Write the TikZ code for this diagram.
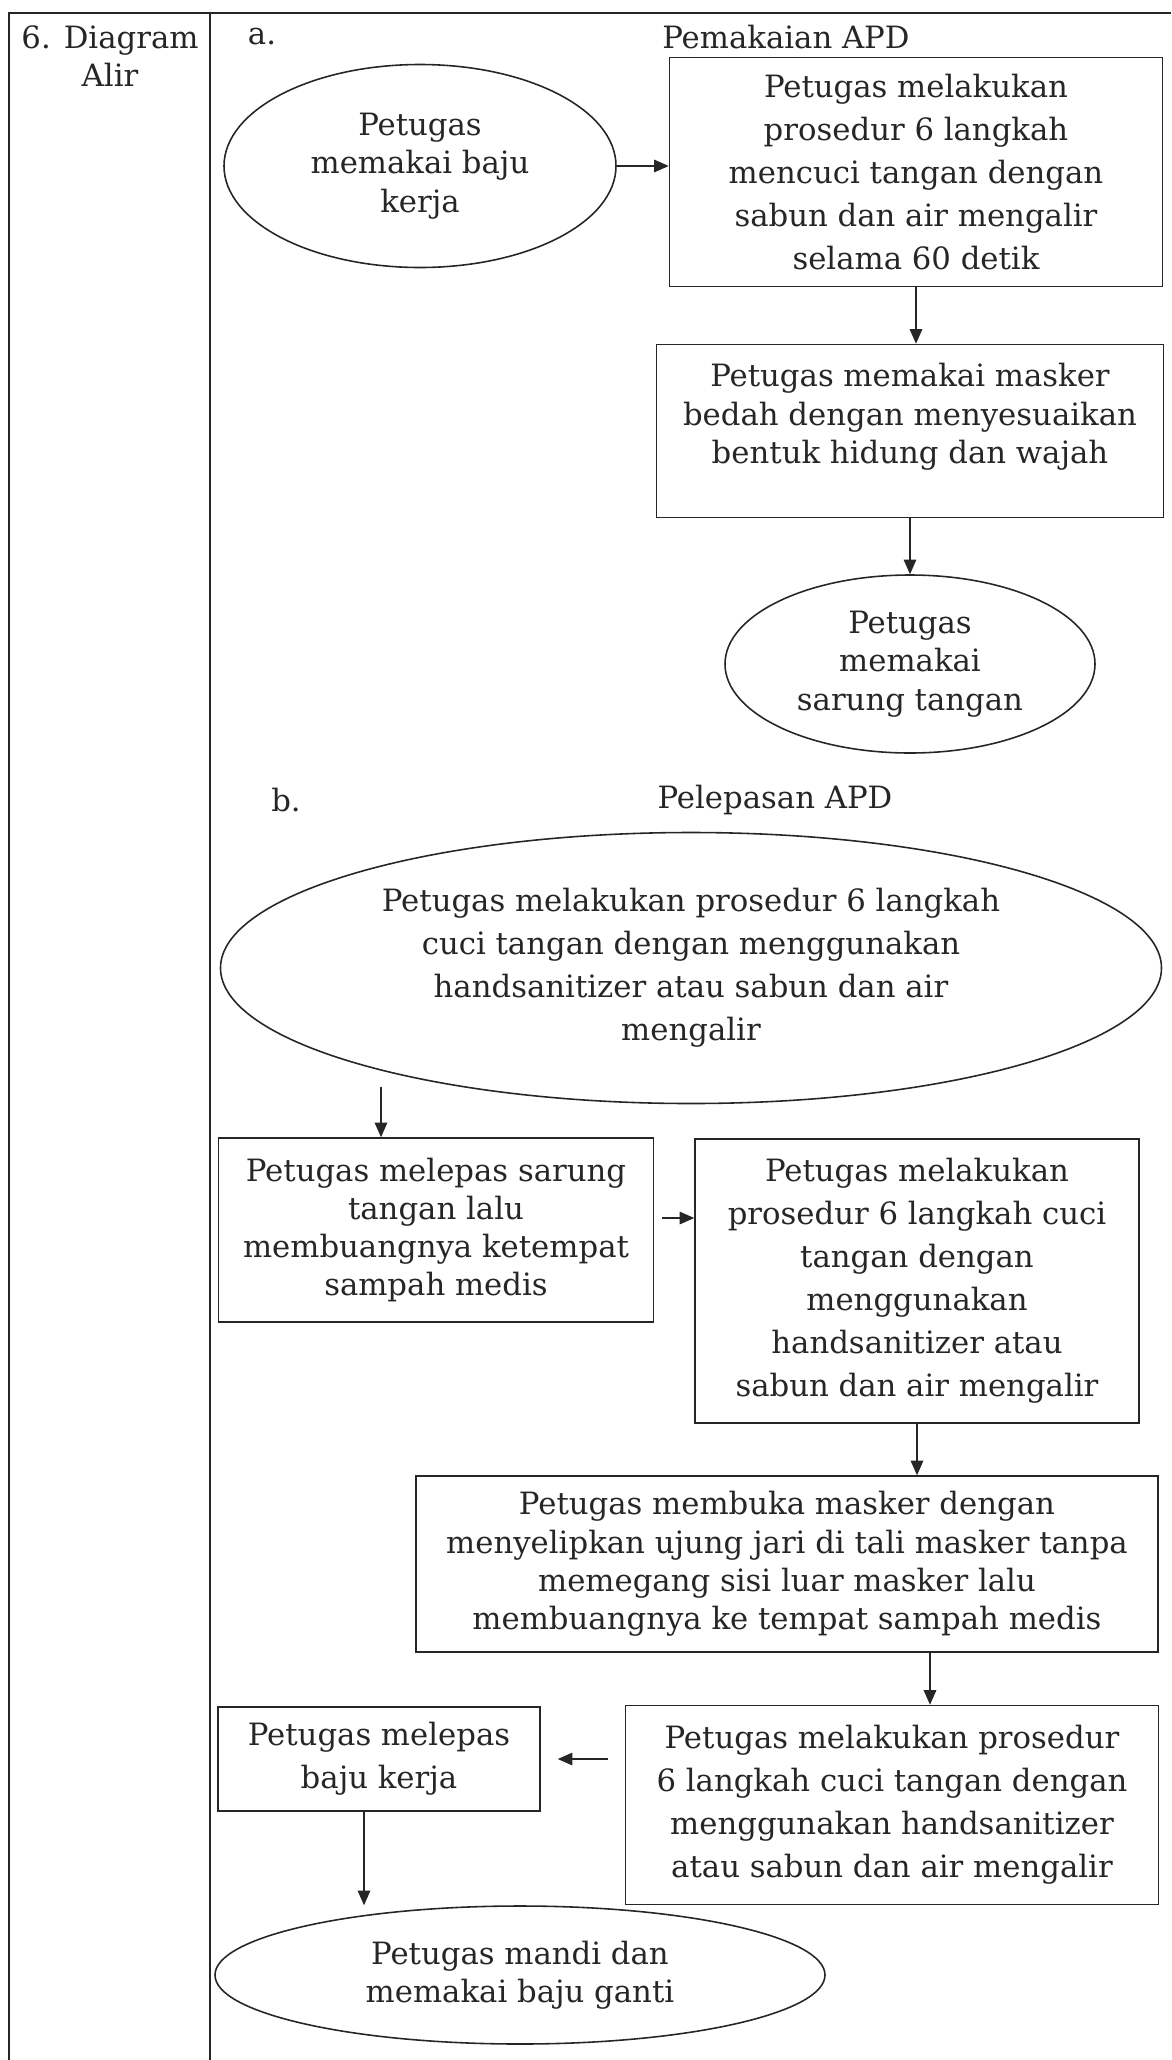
\documentclass[tikz,border=0pt]{standalone}
\usepackage{fontspec}
\setmainfont{DejaVu Serif}
\usetikzlibrary{arrows.meta,positioning,calc,shapes.geometric}
\newlength\upx
\setlength\upx{0.02cm}
\newcommand\bodyfont{\fontsize{17.5pt}{24.5pt}\selectfont}
\newcommand\tightfont{\fontsize{17.5pt}{21.8pt}\selectfont}
\tikzset{
  box/.style={rectangle, draw, line width=0.9pt, align=center, font=\bodyfont, inner sep=0pt},
  oval/.style={ellipse, draw, line width=0.9pt, align=center, font=\bodyfont, inner sep=0pt},
  hd/.style={font=\bodyfont, inner sep=0pt, align=center},
  tight/.style={font=\tightfont},
  arr/.style={-{Triangle[length=0.29cm, width=0.25cm]}, line width=0.7pt},
  frm/.style={line width=1pt},
}

\begin{document}
\begin{tikzpicture}[x=\upx, y=-\upx, color=black!85]
\useasboundingbox (0,0) rectangle (1171,2060);
\draw[frm] (1171,13) -- (9,13) -- (9,2060);
\draw[frm] (210,13) -- (210,2060);
\node[hd, tight] (col) at (110,56) {6. Diagram\\Alir};
\node[hd] (la) at (262,37) {a.};
\node[hd] (ta) at (786,37) {Pemakaian APD};
\node[oval, tight, minimum width=392\upx, minimum height=203\upx] (e1) at (420,166) {Petugas\\memakai baju\\kerja};
\node[box, minimum width=493\upx, minimum height=229\upx] (b2) at (916,172) {Petugas melakukan\\prosedur 6 langkah\\mencuci tangan dengan\\sabun dan air mengalir\\selama 60 detik};
\node[box, tight, text depth=20pt, minimum width=507\upx, minimum height=173\upx] (b3) at (910,431) {Petugas memakai masker\\bedah dengan menyesuaikan\\bentuk hidung dan wajah};
\node[oval, tight, minimum width=370\upx, minimum height=178\upx] (e4) at (910,664) {Petugas\\memakai\\sarung tangan};
\node[hd] (lb) at (286,800) {b.};
\node[hd] (tb) at (775,800) {Pelepasan APD};
\node[oval, minimum width=941\upx, minimum height=271\upx] (e5) at (691,968) {Petugas melakukan prosedur 6 langkah\\cuci tangan dengan menggunakan\\handsanitizer atau sabun dan air\\mengalir};
\node[box, tight, minimum width=435\upx, minimum height=184\upx] (b5) at (436,1230) {Petugas melepas sarung\\tangan lalu\\membuangnya ketempat\\sampah medis};
\node[box, minimum width=444\upx, minimum height=284\upx] (b6) at (917,1281) {Petugas melakukan\\prosedur 6 langkah cuci\\tangan dengan\\menggunakan\\handsanitizer atau\\sabun dan air mengalir};
\node[box, tight, minimum width=742\upx, minimum height=176\upx] (b7) at (787,1564) {Petugas membuka masker dengan\\menyelipkan ujung jari di tali masker tanpa\\memegang sisi luar masker lalu\\membuangnya ke tempat sampah medis};
\node[box, minimum width=533\upx, minimum height=199\upx] (b8) at (892,1805) {Petugas melakukan prosedur\\6 langkah cuci tangan dengan\\menggunakan handsanitizer\\atau sabun dan air mengalir};
\node[box, minimum width=322\upx, minimum height=104\upx] (b9) at (379,1759) {Petugas melepas\\baju kerja};
\node[oval, tight, minimum width=610\upx, minimum height=138\upx] (e10) at (520,1975) {Petugas mandi dan\\memakai baju ganti};
\draw[arr] (e1.east) -- (e1.east -| b2.west);
\draw[arr] (b2.south) -- (b2.south |- b3.north);
\draw[arr] (b3.south) -- (b3.south |- e4.north);
\coordinate (s5) at (381,1087);
\draw[arr] (s5) -- (s5 |- b5.north);
\coordinate (s6) at ($(b5.east)+(8,-12)$);
\draw[arr] (s6) -- (s6 -| b6.west);
\draw[arr] (b6.south) -- (b6.south |- b7.north);
\coordinate (s8) at ($(b7.south)+(143,0)$);
\draw[arr] (s8) -- (s8 |- b8.north);
\draw[arr, shorten <=0.34cm, shorten >=0.34cm] (b9.east -| b8.west) -- (b9.east);
\coordinate (s10) at ($(b9.south)+(-15,0)$);
\draw[arr] (s10) -- (s10 |- e10.north);
\end{tikzpicture}
\end{document}
